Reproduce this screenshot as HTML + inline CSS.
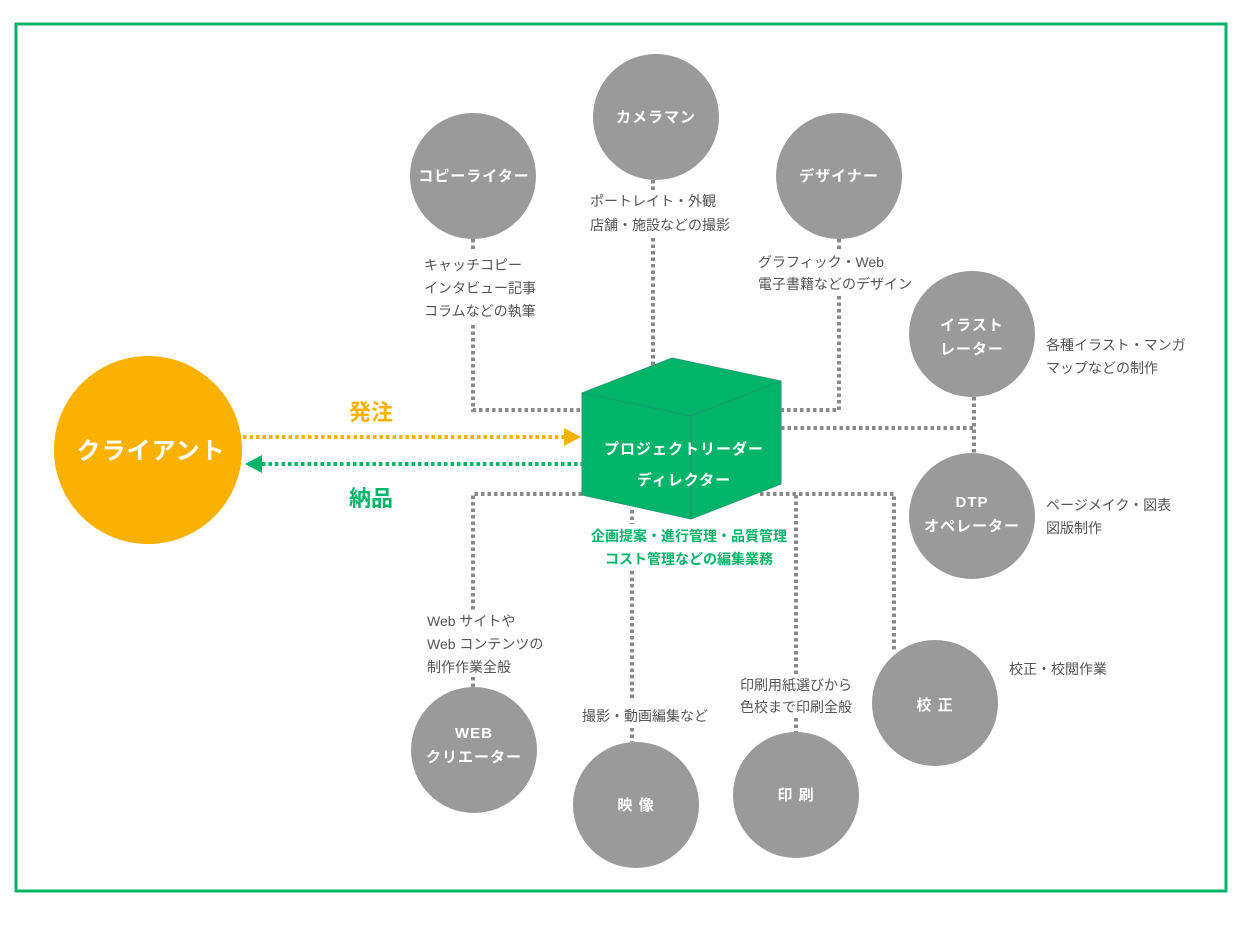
<!DOCTYPE html>
<html><head><meta charset="utf-8"><style>
html,body{margin:0;padding:0;background:#fff;}
svg{display:block;}
text{font-family:"Liberation Sans","Noto Sans CJK JP",sans-serif;}
.l{stroke:#8a8a8a;stroke-width:4;stroke-dasharray:3.5 3;fill:none;}
.c{fill:#9a9a9a;}
.w{fill:#fff;font-weight:bold;font-size:15px;text-anchor:middle;letter-spacing:1px;}
.d{fill:#555;font-size:14px;}
</style></head><body>
<svg width="1240" height="930" viewBox="0 0 1240 930">
<rect x="16" y="24" width="1210" height="867" fill="none" stroke="#00b46a" stroke-width="3"/>
<!-- connectors -->
<polyline class="l" points="473,325 473,410 582,410"/>
<line class="l" x1="473" y1="239" x2="473" y2="252"/>
<line class="l" x1="653" y1="180" x2="653" y2="192"/>
<line class="l" x1="653" y1="238" x2="653" y2="368"/>
<polyline class="l" points="839,239 839,250"/>
<polyline class="l" points="839,296 839,410 781,410"/>
<line class="l" x1="781" y1="428" x2="974" y2="428"/>
<line class="l" x1="974" y1="397" x2="974" y2="453"/>
<polyline class="l" points="582,494 473,494 473,610"/>
<line class="l" x1="473" y1="677" x2="473" y2="687"/>
<line class="l" x1="632" y1="510" x2="632" y2="524"/>
<line class="l" x1="632" y1="571" x2="632" y2="700"/>
<line class="l" x1="632" y1="728" x2="632" y2="742"/>
<line class="l" x1="796" y1="495" x2="796" y2="675"/>
<line class="l" x1="796" y1="718" x2="796" y2="733"/>
<polyline class="l" points="760,494 894,494 894,650"/>
<!-- arrows -->
<line x1="243" y1="437" x2="565" y2="437" stroke="#fbb100" stroke-width="4" stroke-dasharray="3.5 3"/>
<polygon points="564,428 581,437 564,446" fill="#fbb100"/>
<line x1="262" y1="464" x2="582" y2="464" stroke="#00b46a" stroke-width="4" stroke-dasharray="3.5 3"/>
<polygon points="262,455 245,464 262,473" fill="#00b46a"/>
<text x="371" y="420" text-anchor="middle" font-size="22" font-weight="bold" fill="#fbb100">発注</text>
<text x="371" y="506" text-anchor="middle" font-size="22" font-weight="bold" fill="#00b46a">納品</text>
<!-- client -->
<circle cx="148" cy="450" r="94" fill="#fbb100"/>
<text x="151" y="459" text-anchor="middle" font-size="24" font-weight="bold" fill="#fff" letter-spacing="1">クライアント</text>
<!-- cube -->
<polygon points="582,393 672,358 781,381 781,484 691,519 582,495" fill="#00b46a" stroke="#2a9a78" stroke-width="1"/>
<polyline points="582,393 691,416 781,381" fill="none" stroke="#2a8a70" stroke-width="1" stroke-dasharray="2 1"/>
<line x1="691" y1="416" x2="691" y2="519" stroke="#2a8a70" stroke-width="1"/>
<text x="684" y="454" class="w" font-size="17" letter-spacing="1.8">プロジェクトリーダー</text>
<text x="684" y="485" class="w" font-size="17" letter-spacing="1.8">ディレクター</text>
<text x="689" y="541" text-anchor="middle" font-size="14" font-weight="bold" fill="#00b46a">企画提案・進行管理・品質管理</text>
<text x="689" y="564" text-anchor="middle" font-size="14" font-weight="bold" fill="#00b46a">コスト管理などの編集業務</text>
<!-- circles -->
<circle class="c" cx="656" cy="117" r="63"/><text class="w" x="656" y="122">カメラマン</text>
<circle class="c" cx="473" cy="176" r="63"/><text class="w" x="474" y="181">コピーライター</text>
<circle class="c" cx="839" cy="176" r="63"/><text class="w" x="839" y="181">デザイナー</text>
<circle class="c" cx="972" cy="334" r="63"/><text class="w" x="972" y="330">イラスト</text><text class="w" x="972" y="354">レーター</text>
<circle class="c" cx="972" cy="516" r="63"/><text class="w" x="972" y="507">DTP</text><text class="w" x="972" y="531">オペレーター</text>
<circle class="c" cx="474" cy="750" r="63"/><text class="w" x="474" y="738">WEB</text><text class="w" x="474" y="762">クリエーター</text>
<circle class="c" cx="636" cy="805" r="63"/><text class="w" x="636" y="810">映 像</text>
<circle class="c" cx="796" cy="795" r="63"/><text class="w" x="796" y="800">印 刷</text>
<circle class="c" cx="935" cy="703" r="63"/><text class="w" x="935" y="710">校 正</text>
<!-- descriptions -->
<text class="d" x="590" y="206">ポートレイト・外観</text>
<text class="d" x="590" y="230">店舗・施設などの撮影</text>
<text class="d" x="424" y="270">キャッチコピー</text>
<text class="d" x="424" y="293">インタビュー記事</text>
<text class="d" x="424" y="316">コラムなどの執筆</text>
<text class="d" x="758" y="267">グラフィック・Web</text>
<text class="d" x="758" y="289">電子書籍などのデザイン</text>
<text class="d" x="1046" y="350">各種イラスト・マンガ</text>
<text class="d" x="1046" y="373">マップなどの制作</text>
<text class="d" x="1046" y="510">ページメイク・図表</text>
<text class="d" x="1046" y="533">図版制作</text>
<text class="d" x="427" y="626">Web サイトや</text>
<text class="d" x="427" y="649">Web コンテンツの</text>
<text class="d" x="427" y="672">制作作業全般</text>
<text class="d" x="582" y="721">撮影・動画編集など</text>
<text class="d" x="740" y="690">印刷用紙選びから</text>
<text class="d" x="740" y="712">色校まで印刷全般</text>
<text class="d" x="1009" y="674">校正・校閲作業</text>
</svg>
</body></html>
